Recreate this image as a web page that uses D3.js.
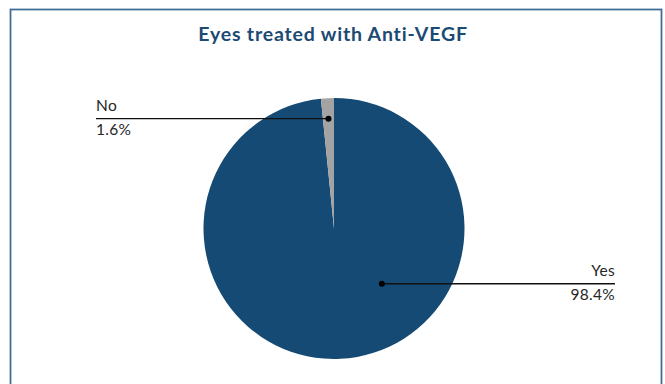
<!DOCTYPE html>
<html>
<head>
<meta charset="utf-8">
<script src="https://cdn.jsdelivr.net/npm/d3@7"></script>
<style>
  html, body { margin: 0; padding: 0; background: #fff; }
  svg { display: block; font-family: Lato, "Open Sans", sans-serif; }
</style>
</head>
<body>
<svg id="chart" width="665" height="384"></svg>
<script>
// Share of eyes treated with anti-VEGF
const categories = ["Yes", "No"];
const values = [98.4, 1.6];
const valueLabels = ["98.4%", "1.6%"];
const colors = ["#144a73", "#a3a3a3"];

const W = 665, H = 384;
const svg = d3.select("#chart");

// Frame
svg.append("rect")
  .attr("x", 10.5).attr("y", 9.5)
  .attr("width", 651).attr("height", 400)
  .attr("fill", "#fff")
  .attr("stroke", "#3d6b96")
  .attr("stroke-width", 1.75);

// Title
svg.append("text")
  .attr("x", 333).attr("y", 41)
  .attr("text-anchor", "middle")
  .attr("font-size", 19.5)
  .attr("font-weight", 700)
  .attr("letter-spacing", 0.8)
  .attr("fill", "#1b4a73")
  .text("Eyes treated with Anti-VEGF");

const cx = 334, cy = 228.5, r = 130.5;
const g = svg.append("g").attr("transform", `translate(${cx},${cy})`);

const pie = d3.pie().sort(null).value(d => d.value);
const data = categories.map((c, i) => ({ name: c, value: values[i], label: valueLabels[i], color: colors[i] }));
const arcs = pie(data);

const arc = d3.arc().innerRadius(0).outerRadius(r);
g.selectAll("path.slice")
  .data(arcs)
  .enter().append("path")
  .attr("class", "slice")
  .attr("d", arc)
  .attr("fill", d => d.data.color);

// Callout layout: anchor point inside slice (angle, radius fraction),
// label line end x and text alignment
const callouts = {
  Yes: { angle: d => 139.1 * Math.PI / 180, rf: 0.56, lineEnd: 615, anchor: "end" },
  No:  { angle: d => (d.startAngle + d.endAngle) / 2 - 2 * Math.PI, rf: 0.843, lineEnd: 96, anchor: "start" }
};

arcs.forEach(d => {
  const c = callouts[d.data.name];
  const a = c.angle(d);
  const px = cx + Math.sin(a) * r * c.rf;
  const py = cy - Math.cos(a) * r * c.rf;
  svg.append("line")
    .attr("x1", px).attr("y1", py)
    .attr("x2", c.lineEnd).attr("y2", py)
    .attr("stroke", "#111").attr("stroke-width", 1.3);
  svg.append("circle")
    .attr("cx", px).attr("cy", py).attr("r", 3)
    .attr("fill", "#000");
  svg.append("text")
    .attr("x", c.lineEnd).attr("y", py - 7.5)
    .attr("text-anchor", c.anchor)
    .attr("font-size", 15.5)
    .attr("letter-spacing", 0.3)
    .attr("fill", "#262626")
    .text(d.data.name);
  svg.append("text")
    .attr("x", c.lineEnd).attr("y", py + 16.5)
    .attr("text-anchor", c.anchor)
    .attr("font-size", 15.5)
    .attr("letter-spacing", 0.3)
    .attr("fill", "#262626")
    .text(d.data.label);
});
</script>
</body>
</html>
